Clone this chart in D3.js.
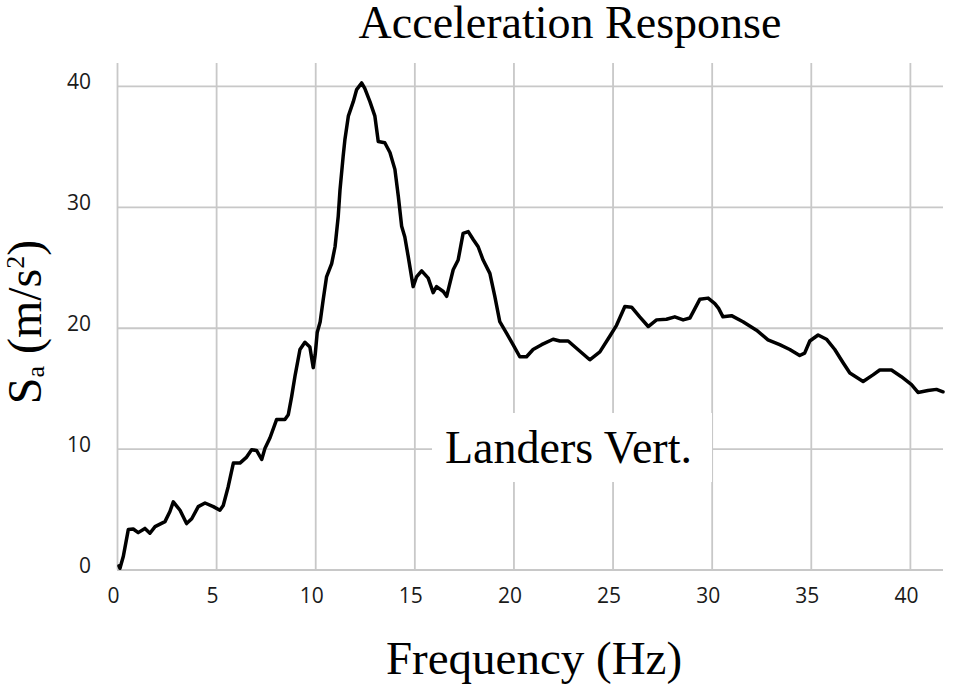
<!DOCTYPE html>
<html>
<head>
<meta charset="utf-8">
<script src="https://cdn.jsdelivr.net/npm/d3@7"></script>
<style>
  body { margin: 0; background: #fff; }
  .grid line { stroke: #c8c8c8; stroke-width: 1.8; }
  .grid text { font-family: "Open Sans", sans-serif; font-size: 21px; fill: #1a1a1a; }
  .serif { font-family: "Liberation Serif", "Times New Roman", serif; fill: #000; }
  .line { fill: none; stroke: #000; stroke-width: 3.5; stroke-linejoin: round; stroke-linecap: round; }
</style>
</head>
<body>
<div id="chart"></div>
<script>
'use strict';

/* spectrum: frequency (Hz) vs Sa (m/s^2) */
const freq = [0.1, 0.15, 0.32, 0.57, 0.82, 1.07, 1.41, 1.66, 1.92, 2.42, 2.67, 2.84, 3.18, 3.51, 3.77,
  4.1, 4.44, 4.86, 5.19, 5.36, 5.61, 5.87, 6.2, 6.54, 6.79, 7.04, 7.3, 7.46, 7.72, 8.05, 8.47, 8.64,
  8.81, 8.98, 9.23, 9.48, 9.73, 9.9, 10.0, 10.1, 10.25, 10.4, 10.57, 10.83, 11.0, 11.16, 11.25, 11.41,
  11.5, 11.67, 11.92, 12.09, 12.34, 12.5, 12.76, 13.01, 13.18, 13.51, 13.77, 14.02, 14.19, 14.36, 14.52,
  14.69, 14.94, 15.11, 15.37, 15.7, 15.95, 16.12, 16.46, 16.63, 16.96, 17.21, 17.46, 17.72, 17.97, 18.22,
  18.47, 18.81, 19.06, 19.31, 19.65, 19.98, 20.32, 20.66, 20.99, 21.42, 22.0, 22.34, 22.76, 23.18, 23.85,
  24.36, 24.86, 25.2, 25.62, 25.96, 26.37, 26.8, 27.22, 27.72, 28.14, 28.56, 28.9, 29.4, 29.82, 30.16,
  30.35, 30.57, 31.0, 31.58, 32.26, 32.84, 33.43, 33.94, 34.44, 34.69, 34.95, 35.37, 35.79, 36.21, 36.63,
  36.97, 37.64, 38.14, 38.48, 39.07, 39.57, 40.08, 40.41, 40.91, 41.34, 41.67];
const sa = [0.3, 0.1, 1.1, 3.3, 3.35, 3.05, 3.4, 3.0, 3.55, 3.96, 4.8, 5.6, 4.9, 3.8, 4.2,
  5.2, 5.5, 5.2, 4.9, 5.3, 6.85, 8.8, 8.8, 9.3, 9.9, 9.85, 9.1, 10.0, 10.9, 12.4, 12.4, 12.8,
  14.3, 16.0, 18.2, 18.8, 18.4, 16.7, 17.8, 19.6, 20.5, 22.3, 24.2, 25.3, 26.7, 29.2, 31.4, 34.2,
  35.6, 37.5, 38.7, 39.7, 40.25, 39.8, 38.7, 37.5, 35.4, 35.3, 34.5, 33.1, 30.9, 28.4, 27.5,
  25.9, 23.4, 24.2, 24.7, 24.1, 22.9, 23.4, 23.0, 22.6, 24.8, 25.6, 27.8, 27.95, 27.3, 26.7,
  25.6, 24.5, 22.6, 20.5, 19.55, 18.6, 17.6, 17.6, 18.2, 18.6, 19.05, 18.9, 18.9, 18.3, 17.35,
  18.0, 19.3, 20.2, 21.75, 21.7, 20.9, 20.1, 20.65, 20.7, 20.9, 20.65, 20.8, 22.35, 22.45, 22.0,
  21.6, 20.9, 21.0, 20.5, 19.8, 19.0, 18.6, 18.2, 17.7, 17.9, 18.9, 19.4, 19.05, 18.2, 17.1,
  16.25, 15.55, 16.1, 16.5, 16.5, 15.95, 15.3, 14.65, 14.8, 14.9, 14.7];

const xTicks = [0, 5, 10, 15, 20, 25, 30, 35, 40];
const yTicks = [0, 10, 20, 30, 40];
const xDomain = [0, 41.67];
const yDomain = [0, 41.9];

const title = "Acceleration Response";
const xLabel = "Frequency (Hz)";
const note = "Landers Vert.";

const size = { width: 955, height: 689 };
const plot = { left: 117, right: 943, top: 63, bottom: 569.5 };

const svg = d3.select("#chart").append("svg")
  .attr("width", size.width)
  .attr("height", size.height);

const xScale = d3.scaleLinear().domain(xDomain).range([plot.left, plot.right]);
const yScale = d3.scaleLinear().domain(yDomain).range([plot.bottom, plot.top]);

// grids double as axes: gridline ticks + labels
const xGrid = d3.axisBottom(xScale)
  .tickValues(xTicks)
  .tickSize(-(plot.bottom - plot.top))
  .tickPadding(19)
  .tickFormat(d3.format("d"));

const yGrid = d3.axisLeft(yScale)
  .tickValues(yTicks)
  .tickSize(-(plot.right - plot.left))
  .tickPadding(26)
  .tickFormat(d3.format("d"));

const gx = svg.append("g")
  .attr("class", "grid")
  .attr("transform", "translate(0," + plot.bottom + ")")
  .call(xGrid);
gx.select(".domain").remove();
gx.selectAll("text").attr("x", -4);

const gy = svg.append("g")
  .attr("class", "grid")
  .attr("transform", "translate(" + plot.left + ",0)")
  .call(yGrid);
gy.select(".domain").remove();
gy.selectAll("text").attr("dy", "0.12em");

// white box behind the annotation cuts the grid
svg.append("rect")
  .attr("x", 432)
  .attr("y", 413)
  .attr("width", 280)
  .attr("height", 69)
  .attr("fill", "#fff");

svg.append("text")
  .attr("class", "serif")
  .attr("x", 445)
  .attr("y", 463)
  .style("font-size", "46px")
  .text(note);

const line = d3.line()
  .x((d, i) => xScale(freq[i]))
  .y(d => yScale(d))
  .curve(d3.curveLinear);

svg.append("path")
  .datum(sa)
  .attr("class", "line")
  .attr("d", line);

svg.append("text")
  .attr("class", "serif")
  .attr("text-anchor", "middle")
  .attr("x", 570)
  .attr("y", 38)
  .style("font-size", "46px")
  .text(title);

svg.append("text")
  .attr("class", "serif")
  .attr("text-anchor", "middle")
  .attr("x", 534)
  .attr("y", 674)
  .style("font-size", "47px")
  .text(xLabel);

const yLab = svg.append("text")
  .attr("class", "serif")
  .attr("text-anchor", "middle")
  .attr("transform", "translate(41,322) rotate(-90)")
  .style("font-size", "48px");
yLab.append("tspan").text("S");
yLab.append("tspan").attr("dy", 3).style("font-size", "26px").text("a");
yLab.append("tspan").attr("dy", -3).text(" (m/s");
yLab.append("tspan").attr("dy", -17).style("font-size", "26px").text("2");
yLab.append("tspan").attr("dy", 17).text(")");
</script>
</body>
</html>
